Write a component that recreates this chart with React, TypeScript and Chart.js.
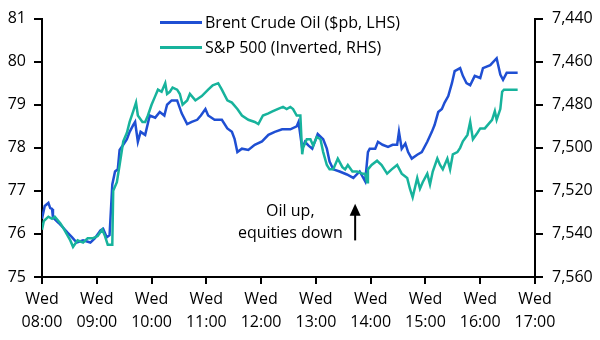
import React, { useEffect, useRef } from 'react';
import { Chart, registerables } from 'chart.js';

Chart.register(...registerables);

const dayLabel = 'Wed';
const hourLabels = ['08:00', '09:00', '10:00', '11:00', '12:00', '13:00', '14:00', '15:00', '16:00', '17:00'];
const legendLabels = ['Brent Crude Oil ($pb, LHS)', 'S&P 500 (Inverted, RHS)'];
const annotationLines = ['Oil up,', 'equities down'];

// minutes after 08:00
const brentMinutes = [
  0, 3, 7, 9, 11, 12, 18, 23, 28, 33,
  38, 45, 53, 58, 64, 67, 71, 74, 77, 80,
  83, 85, 89, 93, 96, 100, 102, 105, 108, 113,
  118, 124, 129, 134, 137, 142, 148, 153, 159, 164,
  170, 174, 179, 182, 189, 197, 203, 208, 211, 214,
  219, 226, 233, 241, 248, 255, 263, 272, 279, 281,
  285, 288, 292, 296, 302, 308, 312, 315, 319, 326,
  334, 341, 348, 354, 357, 359, 365, 368, 373, 379,
  384, 389, 391, 394, 398, 401, 405, 411, 416, 422,
  427, 430, 434, 438, 441, 445, 449, 452, 458, 461,
  465, 469, 474, 480, 483, 491, 498, 502, 505, 509,
  521,
];
const brentValues = [
  76.35, 76.65, 76.72, 76.6, 76.58, 76.38, 76.26, 76.15, 76.03, 75.92,
  75.8, 75.85, 75.8, 75.9, 76.08, 76.12, 75.92, 75.97, 77.15, 77.45,
  77.5, 77.95, 78.07, 78.2, 78.37, 78.53, 78.6, 78.14, 78.37, 78.3,
  78.75, 78.7, 78.83, 78.75, 79.0, 79.1, 79.1, 78.8, 78.55, 78.6,
  78.65, 78.75, 78.9, 78.75, 78.65, 78.65, 78.45, 78.37, 78.2, 77.9,
  77.98, 77.95, 78.07, 78.15, 78.3, 78.37, 78.43, 78.43, 78.5, 78.6,
  77.98, 78.14, 78.05, 77.98, 78.32, 78.2, 77.98, 77.68, 77.5, 77.45,
  77.38, 77.3, 77.45, 77.22, 77.9, 77.98, 77.98, 78.14, 78.07, 78.02,
  78.07, 78.07, 78.37, 77.98, 78.1, 77.9, 77.75, 77.84, 77.9, 78.14,
  78.37, 78.53, 78.83, 78.9, 79.05, 79.2, 79.5, 79.78, 79.85, 79.67,
  79.5, 79.45, 79.67, 79.62, 79.85, 79.92, 80.08, 79.7, 79.58, 79.74,
  79.74,
];

const spMinutes = [
  0, 2, 7, 11, 14, 20, 23, 27, 31, 34,
  39, 45, 50, 56, 61, 66, 69, 72, 77, 78,
  82, 85, 89, 93, 96, 100, 103, 105, 110, 113,
  116, 120, 124, 127, 131, 135, 137, 140, 143, 148,
  151, 154, 159, 162, 168, 175, 182, 187, 193, 197,
  203, 208, 214, 219, 226, 233, 237, 242, 248, 253,
  258, 264, 268, 272, 275, 279, 283, 285, 286, 290,
  294, 297, 301, 305, 308, 312, 315, 319, 324, 329,
  332, 335, 340, 345, 351, 354, 356, 357, 361, 367,
  372, 378, 383, 389, 394, 400, 403, 406, 411, 414,
  417, 422, 425, 428, 433, 436, 439, 444, 447, 450,
  455, 458, 461, 466, 469, 472, 477, 480, 485, 489,
  493, 496, 498, 502, 504, 506, 521,
];
const spValues = [
  7538, 7534, 7532, 7533, 7532, 7535, 7537, 7540, 7543, 7546,
  7543, 7544, 7542, 7542, 7541, 7538, 7541, 7545, 7545, 7520,
  7516, 7508, 7497, 7493, 7488, 7483, 7479, 7485, 7488, 7488,
  7485, 7480, 7476, 7473, 7474, 7470, 7475, 7474, 7472, 7473,
  7475, 7480, 7478, 7475, 7478, 7476, 7473, 7471, 7470, 7473,
  7478, 7479, 7482, 7485, 7487, 7488, 7489, 7485, 7484, 7483,
  7482, 7481, 7482, 7481, 7482, 7485, 7485, 7503, 7500, 7496,
  7496, 7499, 7495, 7496, 7502, 7508, 7510, 7510, 7505, 7509,
  7510, 7508, 7511, 7511, 7512, 7512, 7516, 7510, 7508, 7506,
  7508, 7512, 7510, 7508, 7512, 7514, 7519, 7523, 7514, 7519,
  7516, 7512, 7517, 7511, 7505, 7508, 7510, 7505, 7510, 7503,
  7502, 7500, 7497, 7494, 7488, 7496, 7493, 7491, 7491, 7489,
  7487, 7483, 7487, 7482, 7474, 7473, 7473,
];

const BLUE = '#1f4fd3';
const TEAL = '#17b39c';
const FONT = '"Open Sans", sans-serif';

const overlayPlugin = {
  id: 'overlay',
  afterDraw(chart: any) {
    const ctx = chart.ctx as CanvasRenderingContext2D;
    const xs = chart.scales.x;
    const ys = chart.scales.y;
    const area = chart.chartArea;
    ctx.save();
    // legend
    const colors = [BLUE, TEAL];
    ctx.font = `16px ${FONT}`;
    ctx.textAlign = 'left';
    ctx.textBaseline = 'middle';
    legendLabels.forEach((label, i) => {
      const ly = area.top + 4 + i * 25;
      ctx.strokeStyle = colors[i];
      ctx.lineWidth = 3;
      ctx.beginPath();
      ctx.moveTo(area.left + 118, ly);
      ctx.lineTo(area.left + 160, ly);
      ctx.stroke();
      ctx.fillStyle = '#000';
      ctx.fillText(label, area.left + 163, ly + 1);
    });
    // annotation
    ctx.textAlign = 'center';
    const tx = xs.getPixelForValue(272);
    ctx.fillText(annotationLines[0], tx, ys.getPixelForValue(76.53));
    ctx.fillText(annotationLines[1], tx, ys.getPixelForValue(76.01));
    // arrow
    const ax = xs.getPixelForValue(343);
    const yTop = ys.getPixelForValue(76.7);
    const yBot = ys.getPixelForValue(75.85);
    ctx.strokeStyle = '#000';
    ctx.fillStyle = '#000';
    ctx.lineWidth = 2;
    ctx.beginPath();
    ctx.moveTo(ax, yBot);
    ctx.lineTo(ax, yTop + 8);
    ctx.stroke();
    ctx.beginPath();
    ctx.moveTo(ax, yTop);
    ctx.lineTo(ax - 5.5, yTop + 12);
    ctx.lineTo(ax + 5.5, yTop + 12);
    ctx.closePath();
    ctx.fill();
    ctx.restore();
  },
};

export default function App() {
  const ref = useRef<HTMLCanvasElement | null>(null);
  useEffect(() => {
    if (!ref.current) return;
    const axisGrid = { drawOnChartArea: false, drawTicks: true, tickLength: 8, color: '#000', lineWidth: 2 };
    const axisBorder = { color: '#000', width: 2 };
    const chart = new Chart(ref.current, {
      type: 'line',
      data: {
        datasets: [
          {
            label: legendLabels[0],
            data: brentMinutes.map((m, i) => ({ x: m, y: brentValues[i] })),
            borderColor: BLUE,
            borderWidth: 2.5,
            pointRadius: 0,
            tension: 0,
            yAxisID: 'y',
            order: 1,
          },
          {
            label: legendLabels[1],
            data: spMinutes.map((m, i) => ({ x: m, y: spValues[i] })),
            borderColor: TEAL,
            borderWidth: 2.5,
            pointRadius: 0,
            tension: 0,
            yAxisID: 'y1',
            order: 0,
          },
        ],
      },
      options: {
        responsive: false,
        animation: false,
        devicePixelRatio: 1,
        layout: { padding: { top: 15, left: 0, right: 0, bottom: 0 } },
        plugins: { legend: { display: false }, tooltip: { enabled: false } },
        font: { family: FONT, size: 16 },
        scales: {
          x: {
            type: 'linear',
            min: 0,
            max: 540,
            grid: { ...axisGrid, tickLength: 7 },
            border: axisBorder,
            ticks: {
              stepSize: 60,
              autoSkip: false,
              maxRotation: 0,
              padding: 4,
              color: '#000',
              font: { family: FONT, size: 16, lineHeight: 1.45 },
              callback: (v: any) => [dayLabel, hourLabels[Math.round(Number(v) / 60)]],
            },
            afterFit: (s: any) => { s.height = 63; },
          },
          y: {
            position: 'left',
            min: 75,
            max: 81,
            grid: axisGrid,
            border: axisBorder,
            ticks: { stepSize: 1, padding: 8, color: '#000', font: { family: FONT, size: 16 } },
            afterFit: (s: any) => { s.width = 42; },
          },
          y1: {
            position: 'right',
            reverse: true,
            min: 7440,
            max: 7560,
            grid: axisGrid,
            border: axisBorder,
            ticks: {
              stepSize: 20,
              padding: 9,
              color: '#000',
              font: { family: FONT, size: 16 },
              callback: (v: any) => Number(v).toLocaleString('en-US'),
            },
            afterFit: (s: any) => { s.width = 65; },
          },
        },
      } as any,
      plugins: [overlayPlugin],
    });
    return () => chart.destroy();
  }, []);
  return (
    <div style={{ position: 'absolute', left: 0, top: 0, width: 600, height: 340, background: '#fff' }}>
      <canvas ref={ref} width={600} height={340} />
    </div>
  );
}
